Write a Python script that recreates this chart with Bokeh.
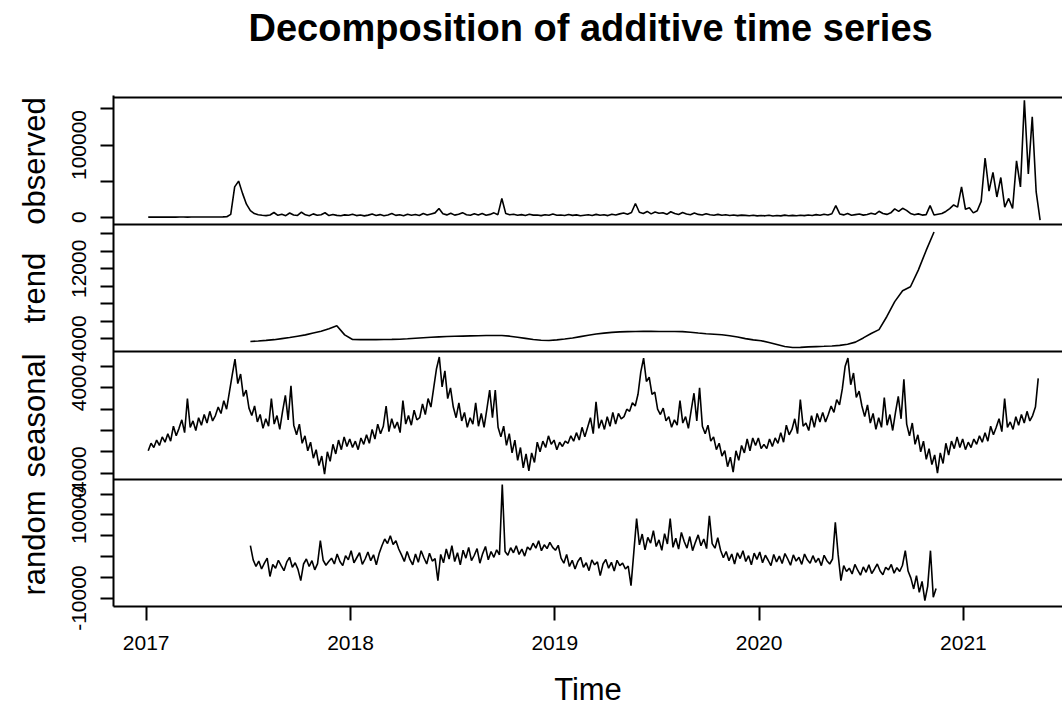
from bokeh.plotting import figure
from bokeh.models import Range1d, FixedTicker, Span, Title, Label
from bokeh.layouts import row
from bokeh.embed import file_html
from bokeh.resources import INLINE

# ---------------- data (values in thousands) ----------------
UNIT = 1000.0

# observed: weekly samples starting 2017.01
obs_start, obs_freq = 2017.01, 52
observed_k = [
    0.1, 0.2, 0.1, 0.1, 0.2, 0.1, 0.2, 0.1, 0.2, 0.2, 0.1, 0.2, 0.3, 0.2, 0.2, 0.3, 0.2, 0.3, 0.3, 0.4, 0.6,
    4, 42, 50, 33, 18, 9, 5, 3.5, 2.8,
    2.2, 3.1, 6.5, 2.6, 4.0, 2.1, 5.8, 3.0, 2.4, 6.9,
    3.3, 2.0, 4.6, 2.7, 3.5, 6.2, 2.3, 3.8, 2.5, 1.9,
    3.2, 2.6, 4.1, 2.2, 3.0, 1.8, 2.9, 4.4, 2.4, 3.6,
    2.0, 3.1, 5.0, 2.5, 3.3, 2.1, 4.2, 2.8, 3.7, 2.3,
    5.1, 3.0, 4.5, 6.0,
    12,
    4.8, 3.2, 5.5, 2.9, 4.1, 6.3, 3.4, 2.6, 4.7, 3.1, 5.2, 2.8, 3.9, 6.0, 3.5,
    26,
    5.0, 3.3, 4.2, 2.7, 3.6, 2.4, 4.0, 2.9, 3.1, 2.2,
    3.5, 2.6, 4.3, 2.8, 3.0, 2.3, 3.7, 2.5, 3.2, 2.1,
    2.8, 3.4, 2.4, 3.9, 2.7, 3.3, 2.2, 4.1, 3.0, 4.6,
    5.8, 4.2, 6.5,
    19,
    6.8, 5.2, 8.0, 4.6, 7.1, 5.5, 6.2, 4.0, 7.6, 5.0,
    3.8, 6.4, 4.4, 3.5, 5.7, 3.9, 3.0, 4.8, 3.4, 2.8,
    3.9, 2.6, 3.3, 2.4, 3.1, 2.2, 2.9, 2.5, 2.0, 2.7,
    1.8, 2.4, 1.9, 2.6, 1.7, 2.3, 1.8, 2.9, 2.1, 2.5,
    1.9, 2.8, 2.2, 3.0, 2.4, 3.6, 2.7, 4.2, 3.1, 4.8,
    16,
    4.5, 3.2, 5.0, 2.8, 3.6, 4.4, 2.9, 3.8, 5.6, 4.0,
    8.2, 5.1, 3.9, 6.0, 11.5, 8.0, 12.3, 9.5, 5.2, 3.4, 4.6, 2.9, 3.6,
    16,
    3.0, 4.2, 5.1, 8.0, 12, 17, 14, 42, 11, 13,
    6, 9, 22, 82, 36, 62, 28, 55, 14, 26,
    12, 78, 42, 162, 60, 139, 35, -4,
]

# trend: bi-weekly samples starting 2017.51
trend_start, trend_freq = 2017.51, 26
trend_k = [
    3.69, 3.75, 3.82, 3.90, 4.02, 4.14, 4.30, 4.45, 4.66, 4.86,
    5.15, 5.50, 4.45, 3.92, 3.90, 3.90, 3.91, 3.92, 3.93, 3.95,
    4.00, 4.06, 4.12, 4.17, 4.22, 4.26, 4.29, 4.31, 4.33, 4.35,
    4.37, 4.38, 4.37, 4.30, 4.18, 4.05, 3.92, 3.84, 3.81, 3.88,
    3.98, 4.10, 4.25, 4.40, 4.55, 4.65, 4.73, 4.79, 4.82, 4.84,
    4.85, 4.85, 4.84, 4.83, 4.83, 4.82, 4.75, 4.66, 4.58, 4.52,
    4.46, 4.35, 4.20, 4.02, 3.88, 3.78, 3.58, 3.35, 3.12, 3.00,
    3.02, 3.08, 3.11, 3.14, 3.18, 3.25, 3.38, 3.62, 4.10, 4.60,
    5.05, 6.55, 8.25, 9.50, 9.95, 11.85, 14.10, 16.20,
]

# seasonal: 5-day samples starting 2017.01
seasonal_start, seasonal_freq = 2017.01, 73
seasonal_k = [
    # 2017
    -1.9, -1.2, -1.6, -0.9, -1.4, -0.6, -1.1, -0.3, -1.0, 0.4,
    -0.5, 0.2, 1.0, -0.2, 3.0, 0.3, 0.9, 0.0, 1.2, 0.5,
    1.5, 0.7, 1.8, 0.9, 1.4, 2.2, 1.6, 2.8, 2.0, 3.6,
    5.2, 6.7, 4.4, 5.3, 3.2, 3.8, 2.1, 1.4, 2.3, 0.8,
    1.5, 0.2, 1.1, 0.4, 3.0, 0.6, 1.4, 0.1, 1.8, 3.3,
    1.0, 4.2, 0.5, -0.4, 0.6, -1.2, -0.5, -1.9, -1.1, -2.6,
    -1.8, -3.3, -2.4, -4.1, -2.0, -2.9, -1.3, -2.2, -0.9, -1.8,
    -0.6, -1.5, -0.8,
    # 2018
    -1.6, -1.0, -1.8, -0.7, -1.3, -0.4, -1.2, 0.1, -0.8, 0.6,
    -0.3, 0.4, 2.3, -0.1, 1.1, 0.2, 0.8, -0.2, 2.8, 0.6,
    1.4, 0.5, 1.9, 1.0, 1.2, 2.5, 1.5, 3.0, 2.2, 4.0,
    5.8, 6.9, 4.1, 5.6, 3.0, 4.0, 2.2, 1.2, 2.6, 0.9,
    1.7, 0.3, 1.2, 0.6, 2.6, 0.4, 1.6, 0.3, 2.0, 3.8,
    1.2, 3.8, 0.3, -0.6, 0.4, -1.4, -0.3, -2.1, -0.9, -2.8,
    -1.6, -3.5, -2.2, -3.8, -2.1, -3.0, -1.1, -2.0, -1.0, -1.6,
    -0.5, -1.3, -0.9,
    # 2019
    -1.8, -1.1, -1.5, -1.0, -1.2, -0.5, -1.0, -0.2, -0.9, 0.3,
    -0.6, 0.3, 1.2, -0.3, 2.7, 0.2, 1.0, 0.1, 1.3, 0.4,
    1.7, 0.6, 1.6, 1.1, 1.3, 2.0, 1.8, 2.6, 2.3, 3.4,
    5.5, 6.8, 4.6, 5.0, 3.4, 3.6, 2.0, 1.5, 2.1, 0.9,
    1.3, 0.3, 1.0, 0.5, 2.8, 0.7, 1.3, 0.2, 1.9, 3.5,
    0.9, 4.0, 0.4, -0.3, 0.5, -1.0, -0.6, -1.8, -1.2, -2.4,
    -1.9, -3.4, -2.5, -3.9, -1.9, -2.8, -1.4, -2.1, -0.8, -1.9,
    -0.7, -1.4, -0.7,
    # 2020
    -1.7, -1.3, -1.7, -0.8, -1.5, -0.7, -1.2, -0.2, -1.1, 0.5,
    -0.4, 0.1, 1.1, -0.3, 2.9, 0.4, 0.7, 0.0, 1.4, 0.3,
    1.6, 0.8, 1.7, 0.8, 1.5, 2.3, 1.7, 2.9, 2.4, 3.9,
    6.0, 6.8, 4.3, 5.4, 3.1, 3.7, 2.3, 1.3, 2.4, 0.7,
    1.6, 0.1, 1.2, 0.3, 3.1, 0.5, 1.5, 0.0, 1.7, 3.2,
    1.1, 4.8, 0.6, -0.5, 0.7, -1.3, -0.4, -2.0, -1.0, -2.7,
    -1.7, -3.2, -2.3, -4.0, -2.1, -3.1, -1.2, -2.3, -1.0, -1.7,
    -0.6, -1.6, -0.8,
    # 2021
    -1.8, -1.1, -1.6, -0.8, -1.3, -0.5, -1.1, -0.2, -1.0, 0.4,
    -0.4, 0.3, 1.1, -0.1, 3.0, 0.3, 0.8, 0.1, 1.3, 0.5,
    1.5, 0.7, 1.8, 0.9, 1.4, 2.2, 4.9,
]

# random: 5-day samples starting 2017.51
random_start, random_freq = 2017.51, 73
random_k = [
    2.6, -0.8, -2.4, -1.1, -3.0, -1.6, -0.4, -4.8, -1.9, -2.8,
    -0.9, -2.2, -3.4, -1.3, -0.2, -2.6, -1.5, -3.1, -5.8, -1.8,
    -0.6, -2.4, -1.0, -3.2, -1.7, 3.8, -0.9, -2.1, -1.2,
    -0.4, -1.8, 0.6, -1.2, -2.2, 0.2, -0.8, 1.4, -1.5, -0.3,
    0.9, -1.9, -0.6, 1.1, -1.0, 0.4, -2.0, 0.7,
    2.6, 4.2, 3.1, 5.0, 2.9, 3.8, 1.8,
    0.4, -1.2, 1.2, -0.7, -2.0, 0.6, -1.4, 1.4, -0.3, -1.8, 0.8, -1.1, -0.5,
    -5.8,
    0.5, -1.5, 1.8, -0.6, 2.6, -1.2, 0.9, -2.0, 1.5, -0.4,
    2.2, -1.0, 0.3, 1.9, -1.6, 0.7, 2.4, -0.8, 1.2, -0.2, 1.6, 0.4,
    17.3,
    1.2, 0.3, 2.1, 0.9, 2.6, 0.5, 1.8, 0.1, 2.3,
    1.6, 3.2, 2.0, 3.8, 1.4, 2.8, 1.9, 3.4, 2.2, 1.5, 2.7,
    -0.4, -1.6, 0.5, -2.4, -0.9, -3.0, -1.2, -0.2, -2.6, -1.5, -3.4, -0.8, -2.0, -1.3,
    -4.6,
    -1.8, -0.7, -2.8, -1.4, -3.5, -0.9, -2.2, -1.6, -3.0, -2.3,
    -7.0, 1.0, 9.1,
    2.8, 5.4, 1.6, 4.6, 3.2, 6.2, 2.4, 4.0, 1.5, 5.5, 3.0,
    9.1,
    2.2, 4.4, 1.8, 5.8, 3.6, 2.0, 4.8, 1.4, 3.4, 5.2, 2.6, 4.2, 1.9,
    9.8,
    3.1, 2.0, 4.5, 1.5,
    -0.3, 1.2, -1.0, 0.6, -1.8, 0.9, -0.5, 1.4, -1.2, 0.2,
    -2.0, 0.8, -0.7, 1.1, -1.5, 0.3, -0.9, -2.2, 0.5, -1.3,
    0.1, -1.7, 0.7, -0.6, -2.1, 0.4, -1.1, -0.2, -1.9, 0.6,
    -0.8, -1.6, 0.2, -1.4, -0.4, -2.2, 0.3, -1.0, -1.8, -0.6,
    8.2, 0.5, -5.8,
    -2.2, -3.6, -2.8, -4.2, -1.9, -3.3, -4.5, -2.5, -3.8, -2.0, -4.1,
    -3.0, -1.8, -3.5, -4.4, -2.6, -3.2, -1.9, -4.0, -2.7, -3.6, -2.1,
    1.4,
    -3.5, -5.2, -7.8, -4.6, -8.6, -6.0, -10.6, -7.2, 1.4, -9.8, -7.7,
]

# axis ticks and their labels (R drops overlapping labels)
year_ticks = [2017, 2018, 2019, 2020, 2021]
obs_ticks = [0, 50000, 100000, 150000]
obs_tick_labels = ["0", "", "100000", ""]
trend_ticks = [4000, 6000, 8000, 10000, 12000, 14000, 16000]
trend_tick_labels = ["4000", "", "", "", "12000", "", ""]
seasonal_ticks = [-4000, -2000, 0, 2000, 4000, 6000]
seasonal_tick_labels = ["-4000", "", "", "", "4000", ""]
random_ticks = [-10000, -5000, 0, 5000, 10000, 15000]
random_tick_labels = ["-10000", "", "", "", "10000", ""]

TITLE = "Decomposition of additive time series"
XLABEL = "Time"

# ---------------- layout constants (pixels) ----------------
FONT = "Liberation Sans"
W, H = 1062, 709
SIDE_W = 50                 # column holding the panel names
FRAME_TOP, FRAME_BOTTOM = 95, 606
LW = 2
# (name, panel top px, panel bottom px, value at bottom edge, value at top edge, ticks, tick labels, series)
panels = [
    ("observed", 97, 224, -10110, 165800, obs_ticks, obs_tick_labels,
     (obs_start, obs_freq, observed_k)),
    ("trend", 224, 351, 2548, 17064, trend_ticks, trend_tick_labels,
     (trend_start, trend_freq, trend_k)),
    ("seasonal", 351, 479, -4601, 7418, seasonal_ticks, seasonal_tick_labels,
     (seasonal_start, seasonal_freq, seasonal_k)),
    ("random", 479, 606, -12020, 18511, random_ticks, random_tick_labels,
     (random_start, random_freq, random_k)),
]


def series(start, freq, vals):
    t = [start + i / freq for i in range(len(vals))]
    v = [x * UNIT for x in vals]
    return t, v


# main plot: one frame holding the four stacked panels, each with its own y scale
frame_h = FRAME_BOTTOM - FRAME_TOP
p = figure(width=W - SIDE_W, height=H,
           x_range=Range1d(2016.84, 2021.485), y_range=Range1d(0, frame_h),
           output_backend="svg", toolbar_location=None,
           min_border_left=113 - SIDE_W, min_border_right=0,
           min_border_top=FRAME_TOP, min_border_bottom=H - FRAME_BOTTOM)
p.grid.visible = False
p.outline_line_color = None
p.background_fill_color = "white"
p.border_fill_color = "white"

tick_pos, tick_text = [], {}
for name, top_px, bot_px, v_lo, v_hi, ticks, labels, (s, f, vals) in panels:
    u_lo, u_hi = FRAME_BOTTOM - bot_px, FRAME_BOTTOM - top_px
    slope = (v_hi - v_lo) / (u_hi - u_lo)
    p.extra_y_ranges[name] = Range1d(v_lo - u_lo * slope, v_lo + (frame_h - u_lo) * slope)
    for tv, tl in zip(ticks, labels):
        u = round(u_lo + (tv - v_lo) / slope, 4)
        tick_pos.append(u)
        tick_text[u] = tl
    t, v = series(s, f, vals)
    p.line(t, v, y_range_name=name, line_color="black", line_width=1.6)
    # panel top border
    p.add_layout(Span(location=u_hi, dimension="width", line_color="black", line_width=LW))

ax = p.yaxis[0]
ax.ticker = FixedTicker(ticks=tick_pos, minor_ticks=[])
ax.major_label_overrides = tick_text
ax.major_label_orientation = "vertical"
ax.major_label_text_font = FONT
ax.major_label_text_font_size = "21px"
ax.major_label_text_color = "black"
ax.major_label_standoff = 14
ax.major_tick_out = 13
ax.major_tick_in = 0
ax.minor_tick_out = 0
ax.minor_tick_in = 0
ax.major_tick_line_width = LW
ax.axis_line_width = LW

xa = p.xaxis[0]
xa.ticker = FixedTicker(ticks=year_ticks, minor_ticks=[])
xa.major_label_overrides = {t: str(t) for t in year_ticks}
xa.major_label_text_font = FONT
xa.major_label_text_font_size = "21px"
xa.major_label_text_color = "black"
xa.major_label_standoff = 15
xa.major_tick_out = 14
xa.major_tick_in = 0
xa.minor_tick_out = 0
xa.minor_tick_in = 0
xa.major_tick_line_width = LW
xa.axis_line_width = LW
xa.axis_label = XLABEL
xa.axis_label_text_font = FONT
xa.axis_label_text_font_size = "31px"
xa.axis_label_text_font_style = "normal"
xa.axis_label_text_color = "black"
xa.axis_label_standoff = 19

# main title, lifted above the frame by a blank spacer title placed nearer the frame
p.add_layout(Title(text=" ", text_font_size="2px", standoff=41), "above")
p.add_layout(Title(text=TITLE, text_font=FONT, text_font_size="38px", text_font_style="bold",
                   text_color="black", align="left", offset=135, standoff=4), "above")

# side column with the rotated panel names; its frame spans the same rows as the main frame
side = figure(width=SIDE_W, height=H, x_range=Range1d(0, SIDE_W), y_range=Range1d(0, frame_h),
              output_backend="svg", toolbar_location=None,
              min_border_left=0, min_border_right=0,
              min_border_top=FRAME_TOP, min_border_bottom=H - FRAME_BOTTOM,
              x_axis_location=None, y_axis_location=None)
side.grid.visible = False
side.outline_line_color = None
side.background_fill_color = "white"
side.border_fill_color = "white"
for name, top_px, bot_px, *_ in panels:
    side.add_layout(Label(x=34, y=FRAME_BOTTOM - (top_px + bot_px) / 2, text=name,
                          angle=90, angle_units="deg",
                          text_align="center", text_baseline="alphabetic",
                          text_font=FONT, text_font_size="31px", text_color="black"))

layout = row(side, p, spacing=0)
open("out.html", "w").write(file_html(layout, INLINE))
